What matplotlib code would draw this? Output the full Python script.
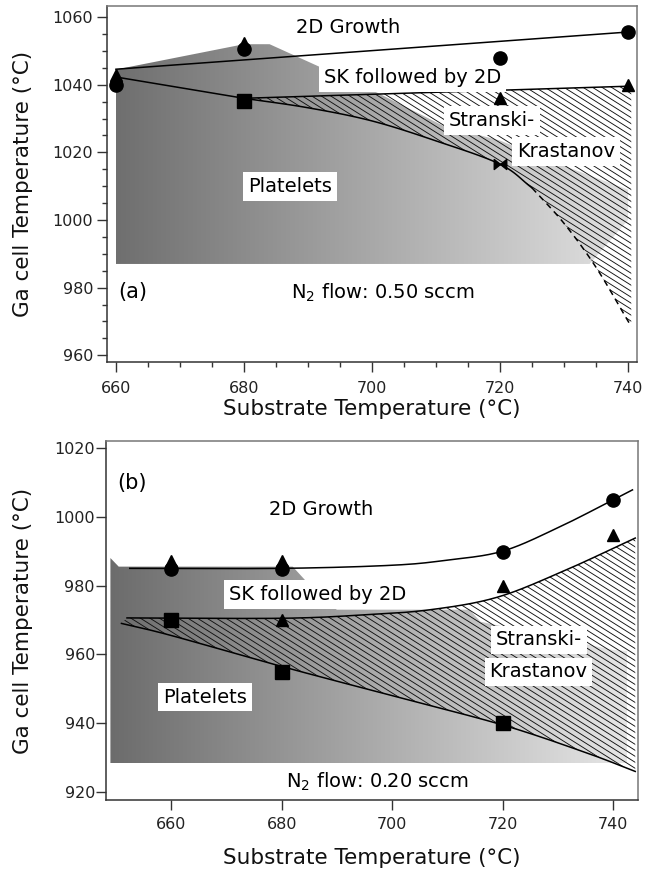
import numpy as np
import matplotlib
matplotlib.use("Agg")
import matplotlib.pyplot as plt
from matplotlib.patches import Polygon
from matplotlib.path import Path
from matplotlib.collections import LineCollection
from matplotlib.colors import LinearSegmentedColormap
from matplotlib.ticker import MultipleLocator

plt.rcParams['font.family'] = ['DejaVu Sans']

# ---------------- panel (a): N2 flow 0.50 sccm ----------------
a_circle_x = [660, 680, 720, 740]
a_circle_y = [1040, 1050.5, 1048, 1055.5]
a_tri_x = [660, 680, 720, 740]
a_tri_y = [1042.8, 1052.5, 1036, 1040]
a_square_x = [680]
a_square_y = [1035.3]
a_bowtie_x = [680, 720]
a_bowtie_y = [1035.5, 1016.5]

a_growth_x = [660, 740]
a_growth_y = [1044.6, 1055.6]
a_left_x = [660, 680]
a_left_y = [1042.3, 1036]
a_sk2d_x = [680, 740.5]
a_sk2d_y = [1036, 1039.6]
a_sklow_x = [680, 690, 700, 710, 720, 725]
a_sklow_y = [1036, 1033.2, 1029.3, 1023.4, 1016.5, 1009.5]
a_skdash_x = [725, 730, 735, 740.5]
a_skdash_y = [1009.5, 999, 986, 968.5]

a_grey_x = [660, 660, 680, 684, 691, 701, 711, 720, 730, 740, 740, 734]
a_grey_y = [987, 1044.5, 1052, 1052, 1046, 1037.5, 1028, 1023.5, 1016, 1009, 1000, 987]

# ---------------- panel (b): N2 flow 0.20 sccm ----------------
b_circle_x = [660, 680, 720, 740]
b_circle_y = [984.8, 984.8, 989.8, 1004.9]
b_tri_x = [660, 680, 680, 720, 740]
b_tri_y = [987, 987, 970, 979.8, 994.7]
b_square_x = [660, 680, 720]
b_square_y = [970, 955, 940]

b_growth_x = [652.5, 680, 700, 710, 720, 730, 740, 743.5]
b_growth_y = [985, 985, 985.9, 987.4, 990, 996.8, 1004.9, 1007.8]
b_sk2d_x = [652, 680, 695, 707, 719, 731, 744]
b_sk2d_y = [970.6, 970.5, 971.5, 973, 976.6, 984.2, 993.8]
b_sklow_x = [651, 660, 680, 700, 720, 735, 744]
b_sklow_y = [969, 965.5, 956.5, 948, 939.5, 931.5, 926]

b_grey_x = [649, 649, 650.5, 682, 688, 690, 714, 716, 740, 742.5, 742.5]
b_grey_y = [928.4, 988, 985.5, 985.5, 975, 973, 973, 969.5, 961.3, 961, 928.4]

FIG_W, FIG_H, DPI = 6.6, 8.75, 100
fig = plt.figure(figsize=(FIG_W, FIG_H), dpi=DPI)
ax_a = fig.add_axes([107 / 660, 1 - 362 / 875, 530 / 660, 356 / 875])
ax_b = fig.add_axes([106 / 660, 1 - 800 / 875, 532 / 660, 359 / 875])

bowtie = Path([(-1, -0.8), (0, 0), (-1, 0.8), (-1, -0.8),
               (1, -0.8), (0, 0), (1, 0.8), (1, -0.8)],
              [Path.MOVETO, Path.LINETO, Path.LINETO, Path.CLOSEPOLY,
               Path.MOVETO, Path.LINETO, Path.LINETO, Path.CLOSEPOLY])


def smooth(xs, ys, n=24):
    """Catmull-Rom curve through the given boundary points."""
    p = np.column_stack([xs, ys]).astype(float)
    if len(p) < 3:
        return p[:, 0], p[:, 1]
    ext = np.vstack([2 * p[0] - p[1], p, 2 * p[-1] - p[-2]])
    out = []
    t = np.linspace(0, 1, n, endpoint=False)[:, None]
    for i in range(1, len(ext) - 2):
        p0, p1, p2, p3 = ext[i - 1], ext[i], ext[i + 1], ext[i + 2]
        seg = 0.5 * ((2 * p1) + (-p0 + p2) * t
                     + (2 * p0 - 5 * p1 + 4 * p2 - p3) * t ** 2
                     + (-p0 + 3 * p1 - 3 * p2 + p3) * t ** 3)
        out.append(seg)
    out.append(p[-1][None, :])
    out = np.vstack(out)
    return out[:, 0], out[:, 1]


def gradient_fill(ax, xs, ys, c0, c1):
    poly = Polygon(np.column_stack([xs, ys]), closed=True,
                   facecolor='none', edgecolor='none')
    ax.add_patch(poly)
    grad = np.linspace(0, 1, 256).reshape(1, -1)
    cmap = LinearSegmentedColormap.from_list('grey_ramp', [c0, c1])
    im = ax.imshow(grad, extent=[min(xs), max(xs), min(ys), max(ys)],
                   aspect='auto', cmap=cmap, origin='lower', zorder=1,
                   interpolation='bilinear')
    im.set_clip_path(poly)


def hatch_fill(ax, xs, ys, spacing_px=9.5, slope_px=0.63, lw=0.65):
    poly = Polygon(np.column_stack([xs, ys]), closed=True,
                   facecolor='none', edgecolor='none')
    ax.add_patch(poly)
    bb = ax.get_position()
    W = bb.width * FIG_W * DPI
    H = bb.height * FIG_H * DPI
    run = H / slope_px
    n = int((W + run) / spacing_px) + 2
    segs = []
    for i in range(n):
        x0 = i * spacing_px - run
        segs.append([(x0 / W, 1.0), ((x0 + run) / W, 0.0)])
    lc = LineCollection(segs, colors='#111111', linewidths=lw,
                        transform=ax.transAxes, zorder=2)
    ax.add_collection(lc, autolim=False)
    lc.set_clip_path(poly)


def label(ax, x, y, s, box=True, **kw):
    bbox = dict(facecolor='white', edgecolor='none', pad=3.5) if box else None
    ax.text(x, y, s, ha='center', va='center', fontsize=14, zorder=4,
            bbox=bbox, **kw)


def style_axes(ax, xlim, ylim, yticks, minor):
    ax.set_xlim(*xlim)
    ax.set_ylim(*ylim)
    ax.set_xticks([660, 680, 700, 720, 740])
    ax.set_yticks(yticks)
    if minor:
        ax.xaxis.set_minor_locator(MultipleLocator(5))
        ax.yaxis.set_minor_locator(MultipleLocator(5))
    ax.tick_params(which='major', direction='out', length=7, width=1,
                   labelsize=11.5, color='#333333', labelcolor='#222222')
    ax.tick_params(which='minor', direction='out', length=3.5, width=1,
                   color='#333333')
    for side in ['left', 'bottom']:
        ax.spines[side].set_color('#333333')
        ax.spines[side].set_linewidth(1.1)
    for side in ['top', 'right']:
        ax.spines[side].set_color('#777777')
        ax.spines[side].set_linewidth(1.1)
    ax.set_xlabel('Substrate Temperature (°C)', fontsize=15.5, color='#111111')
    ax.set_ylabel('Ga cell Temperature (°C)', fontsize=15.5, color='#111111')


# ---------------- draw panel (a) ----------------
ax = ax_a
gradient_fill(ax, a_grey_x, a_grey_y, '#6f6f6f', '#e2e2e2')
lx, ly = smooth(a_sklow_x, a_sklow_y)
dx, dy = smooth(a_skdash_x, a_skdash_y)
sk_a_x = list(a_sk2d_x) + [740.5] + list(dx[::-1]) + list(lx[::-1])
sk_a_y = list(a_sk2d_y) + [968.5] + list(dy[::-1]) + list(ly[::-1])
hatch_fill(ax, sk_a_x, sk_a_y)

ax.plot(a_growth_x, a_growth_y, color='black', lw=1.1, zorder=3)
ax.plot(a_left_x, a_left_y, color='black', lw=1.1, zorder=3)
ax.plot(a_sk2d_x, a_sk2d_y, color='black', lw=1.1, zorder=3)
ax.plot(lx, ly, color='black', lw=1.1, zorder=3)
ax.plot(dx, dy, color='black', lw=1.1, ls=(0, (4, 3)), zorder=3)

label(ax, 696.3, 1057, '2D Growth', box=False)
label(ax, 706.4, 1042.2, 'SK followed by 2D')
label(ax, 718.8, 1029.5, 'Stranski-')
label(ax, 730.3, 1020.3, 'Krastanov')
label(ax, 687.2, 1010, 'Platelets')
ax.text(660.3, 978.8, '(a)', ha='left', va='center', fontsize=15, zorder=4)
label(ax, 701.7, 978.6, 'N$_2$ flow: 0.50 sccm', box=False)

ax.plot(a_circle_x, a_circle_y, 'o', color='black', ms=9.5, zorder=5)
ax.plot(a_tri_x, a_tri_y, '^', color='black', ms=9, zorder=5)
ax.plot(a_square_x, a_square_y, 's', color='black', ms=10, zorder=5)
ax.plot(a_bowtie_x, a_bowtie_y, marker=bowtie, ls='none', color='black',
        ms=9, zorder=6)

style_axes(ax, (658.6, 741.4), (958, 1063.3),
           [960, 980, 1000, 1020, 1040, 1060], minor=True)
ax.tick_params(axis='x', which='major', pad=7)
ax.tick_params(axis='y', which='major', pad=3)
ax.yaxis.set_label_coords(-0.14, 0.5)
ax.xaxis.set_label_coords(0.5, -0.105)

# ---------------- draw panel (b) ----------------
ax = ax_b
gradient_fill(ax, b_grey_x, b_grey_y, '#6c6c6c', '#e6e6e6')
gx, gy = smooth(b_growth_x, b_growth_y)
ux, uy = smooth(b_sk2d_x, b_sk2d_y)
wx, wy = smooth(b_sklow_x, b_sklow_y)
hatch_fill(ax, list(ux) + list(wx[::-1]), list(uy) + list(wy[::-1]))

ax.plot(gx, gy, color='black', lw=1.1, zorder=3)
ax.plot(ux, uy, color='black', lw=1.1, zorder=3)
ax.plot(wx, wy, color='black', lw=1.1, zorder=3)

ax.text(650.2, 1009.8, '(b)', ha='left', va='center', fontsize=15, zorder=4)
label(ax, 687.2, 1002, '2D Growth', box=False)
label(ax, 686.5, 977.3, 'SK followed by 2D')
label(ax, 726.5, 964.2, 'Stranski-')
label(ax, 726.5, 954.9, 'Krastanov')
label(ax, 666.1, 947.6, 'Platelets')
label(ax, 697.3, 923, 'N$_2$ flow: 0.20 sccm', box=False)

ax.plot(b_circle_x, b_circle_y, 'o', color='black', ms=9.5, zorder=5)
ax.plot(b_tri_x, b_tri_y, '^', color='black', ms=9, zorder=5)
ax.plot(b_square_x, b_square_y, 's', color='black', ms=10, zorder=5)

style_axes(ax, (648.2, 744.5), (917.7, 1022),
           [920, 940, 960, 980, 1000, 1020], minor=False)
ax.tick_params(axis='x', which='major', pad=5)
ax.tick_params(axis='y', which='major', pad=1)
ax.yaxis.set_label_coords(-0.137, 0.5)
ax.xaxis.set_label_coords(0.5, -0.135)

fig.savefig('out.png', dpi=DPI)
